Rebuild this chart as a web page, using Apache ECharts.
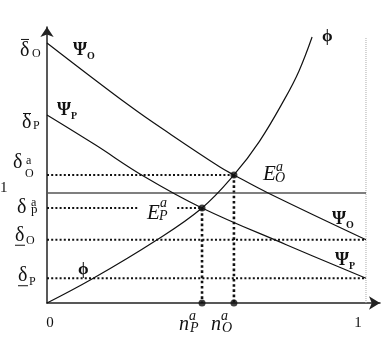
<!DOCTYPE html>
<html><head><meta charset="utf-8">
<script src="https://cdn.jsdelivr.net/npm/echarts@6/dist/echarts.min.js"></script>
<style>html,body{margin:0;padding:0;background:#fff}#c{width:387px;height:339px}</style>
</head><body><div id="c"></div>
<script>
// ---- levels on the vertical axis ----
const deltaBarO = 2.364;
const deltaBarP = 1.709;
const deltaAO = 1.164;
const levelOne = 1.0;
const deltaAP = 0.864;
const deltaUnderO = 0.575;
const deltaUnderP = 0.225;
// ---- equilibrium positions on the horizontal axis ----
const nAP = 0.486;
const nAO = 0.586;
const xOne = 1.0;
// ---- curves ----
const psiOX = [0, 0.26, 0.386, 0.542, 0.586, 0.693, 1.0];
const psiOY = [2.364, 1.79, 1.536, 1.236, 1.164, 1.0, 0.575];
const psiPX = [0, 0.15, 0.302, 0.486, 0.75, 1.0];
const psiPY = [1.709, 1.44, 1.155, 0.864, 0.53, 0.225];
const phiX = [0, 0.141, 0.339, 0.486, 0.586, 0.666, 0.746, 0.79, 0.831];
const phiY = [0, 0.218, 0.564, 0.864, 1.164, 1.47, 1.86, 2.11, 2.418];
// ---- axis tick labels ----
const xTickLabels = ['0', '1'];
const oneLabel = '1';

const X_MAX = 1.0439, Y_MAX = 2.509;
const ink = '#111';
const serif = '"Liberation Serif", "DejaVu Serif", serif';
const zip = (a, b) => a.map((v, i) => [v, b[i]]);

const chart = echarts.init(document.getElementById('c'), null, {renderer: 'canvas'});

const curve = (name, xs, ys) => ({
  name, type: 'line', data: zip(xs, ys), smooth: 0.4,
  symbol: 'none', lineStyle: {color: ink, width: 1.2}, z: 5, silent: true
});
const seg = (pts, style, z) => ({
  type: 'line', data: pts, symbol: 'none', lineStyle: style, z: z || 3, silent: true
});
const dotH = {color: ink, width: 2, type: [2, 2.2]};
const dotV = {color: ink, width: 2.6, type: [2.6, 2.6]};

chart.setOption({
  animation: false,
  grid: {left: 47, top: 27, right: 7, bottom: 36},
  xAxis: {
    type: 'value', min: 0, max: X_MAX,
    axisLine: {show: true, onZero: false, symbol: ['none', 'arrow'], symbolSize: [10, 11],
      lineStyle: {color: '#222', width: 1.5}},
    axisTick: {show: false}, axisLabel: {show: false}, splitLine: {show: false}
  },
  yAxis: {
    type: 'value', min: 0, max: Y_MAX,
    axisLine: {show: true, onZero: false, symbol: ['none', 'arrow'], symbolSize: [10, 10],
      lineStyle: {color: '#222', width: 1.5}},
    axisTick: {show: false}, axisLabel: {show: false}, splitLine: {show: false}
  },
  series: [
    curve('ΨO', psiOX, psiOY),
    curve('ΨP', psiPX, psiPY),
    curve('φ', phiX, phiY),
    seg([[0, levelOne], [xOne, levelOne]], {color: '#555', width: 1.5}, 4),
    seg([[xOne, 0], [xOne, phiY[phiY.length - 1]]], {color: '#aaa', width: 1, type: [1, 1]}, 2),
    seg([[0, deltaAO], [nAO, deltaAO]], dotH),
    seg([[0, deltaAP], [nAP, deltaAP]], dotH),
    seg([[0, deltaUnderO], [xOne, deltaUnderO]], dotH),
    seg([[0, deltaUnderP], [xOne, deltaUnderP]], dotH),
    seg([[nAP, deltaAP], [nAP, 0]], dotV),
    seg([[nAO, deltaAO], [nAO, 0]], dotV),
    {
      type: 'scatter', symbol: 'circle', symbolSize: 7, itemStyle: {color: ink}, z: 8, silent: true,
      data: [[nAP, deltaAP], [nAO, deltaAO], [nAP, 0], [nAO, 0]]
    }
  ]
});

const P = (x, y) => chart.convertToPixel({gridIndex: 0}, [x, y]);
// text with its baseline at (x, base)
const T = (x, base, text, size, opt) => {
  opt = opt || {};
  const weight = opt.bold ? 'bold ' : '';
  const style = opt.italic ? 'italic ' : '';
  return {
    type: 'text', x: x, y: base - 0.36 * size, z: 20, silent: true,
    style: {
      text, font: style + weight + size + 'px ' + serif, fill: ink,
      align: opt.align || 'left', verticalAlign: 'middle',
      textAlign: opt.align || 'left', textVerticalAlign: 'middle'
    }
  };
};
const bar = (x1, x2, y) => ({
  type: 'line', shape: {x1, y1: y, x2, y2: y}, z: 20, silent: true,
  style: {stroke: ink, lineWidth: 1}
});

const g = [];
const yl = v => P(0, v)[1];
const DS = 20;
// vertical axis labels
g.push(T(20, yl(deltaBarO) + 15, 'δ', DS));
g.push(bar(21, 29, yl(deltaBarO) - 3.5));
g.push(T(32, yl(deltaBarO) + 15, 'O', 12));
g.push(T(22, yl(deltaBarP) + 15, 'δ', DS));
g.push(bar(23, 31, yl(deltaBarP) - 1.5));
g.push(T(33, yl(deltaBarP) + 15, 'P', 12));
g.push(T(13, yl(deltaAO) - 5, 'δ', DS));
g.push(T(26, yl(deltaAO) - 10, 'a', 12));
g.push(T(25, yl(deltaAO) + 3, 'O', 12));
g.push(T(0, yl(levelOne), oneLabel, 15));
g.push(T(17, yl(deltaAP) + 7, 'δ', DS));
g.push(T(31, yl(deltaAP) - 1, 'a', 12));
g.push(T(31, yl(deltaAP) + 6, 'p', 13));
g.push(T(15, yl(deltaUnderO) + 3, 'δ', DS));
g.push(bar(15, 25, yl(deltaUnderO) + 5.5));
g.push(T(26, yl(deltaUnderO) + 5, 'O', 12));
g.push(T(18, yl(deltaUnderP) + 5, 'δ', DS));
g.push(bar(18, 28, yl(deltaUnderP) + 7.5));
g.push(T(29, yl(deltaUnderP) + 8, 'P', 12));
// horizontal axis labels
const base0 = P(0, 0);
g.push(T(base0[0] + 3, base0[1] + 25, xTickLabels[0], 15, {align: 'center'}));
g.push(T(P(xOne, 0)[0] - 8, base0[1] + 25, xTickLabels[1], 15, {align: 'center'}));
const nLab = (xv, sub) => {
  const px = P(xv, 0)[0];
  g.push(T(px - 23, base0[1] + 29, 'n', 20, {italic: true}));
  g.push(T(px - 13, base0[1] + 18, 'a', 14, {italic: true}));
  g.push(T(px - 12, base0[1] + 30, sub, 14, {italic: true}));
};
nLab(nAP, 'P');
nLab(nAO, 'O');
// equilibrium labels
const eO = P(nAO, deltaAO);
g.push(T(eO[0] + 29, eO[1] + 7, 'E', 21, {italic: true}));
g.push(T(eO[0] + 42, eO[1] - 3, 'a', 14, {italic: true}));
g.push(T(eO[0] + 41, eO[1] + 8, 'O', 14, {italic: true}));
const eP = P(nAP, deltaAP);
g.push({type: 'rect', shape: {x: eP[0] - 64, y: eP[1] - 9, width: 38, height: 18}, style: {fill: '#fff'}, z: 15, silent: true});
g.push(T(eP[0] - 55, eP[1] + 13, 'E', 21, {italic: true}));
g.push(T(eP[0] - 42, eP[1] + 0, 'a', 14, {italic: true}));
g.push(T(eP[0] - 43, eP[1] + 13, 'P', 14, {italic: true}));
// curve labels
const psi = (x, base, sub) => {
  g.push(T(x, base, 'Ψ', 18, {bold: true}));
  g.push(T(x + 14, base + 3, sub, 10, {bold: true}));
};
psi(73, yl(deltaBarO) + 14, 'O');
psi(57, yl(deltaBarP) + 2, 'P');
const endO = P(xOne, deltaUnderO), endP = P(xOne, deltaUnderP);
psi(endO[0] - 34, endO[1] - 14, 'O');
psi(endP[0] - 31, endP[1] - 11, 'P');
const phiTop = P(phiX[phiX.length - 1], phiY[phiY.length - 1]);
g.push(T(phiTop[0] + 10, phiTop[1] + 6, 'ϕ', 17, {bold: true}));
g.push(T(78, yl(deltaUnderP) - 3, 'ϕ', 17, {bold: true}));

chart.setOption({graphic: {elements: g}});
</script>
</body></html>
